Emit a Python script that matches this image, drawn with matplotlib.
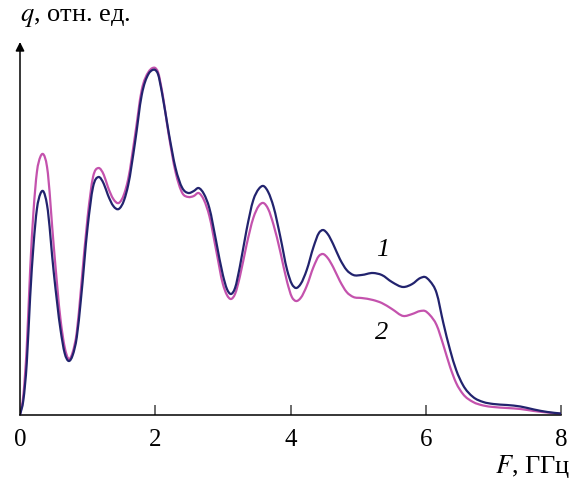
import numpy as np
import matplotlib.pyplot as plt
from matplotlib.path import Path
from matplotlib.patches import PathPatch

plt.rcParams['font.family'] = ['Liberation Serif', 'DejaVu Serif']
plt.rcParams['mathtext.fontset'] = 'stix'

# частота, ГГц
freq = [0, 0.05, 0.1, 0.15, 0.2, 0.25, 0.3, 0.34, 0.4, 0.5, 0.6, 0.66, 0.72, 0.78,
        0.84, 0.9, 1.0, 1.08, 1.16, 1.24, 1.3, 1.38, 1.46, 1.54, 1.6, 1.7, 1.8, 1.9,
        1.96, 2.0, 2.04, 2.1, 2.2, 2.3, 2.4, 2.49, 2.57, 2.64, 2.72, 2.8, 2.9, 3.0,
        3.06, 3.12, 3.18, 3.25, 3.35, 3.45, 3.53, 3.6, 3.67, 3.75, 3.85, 3.95, 4.02,
        4.08, 4.15, 4.24, 4.34, 4.42, 4.48, 4.55, 4.63, 4.73, 4.83, 4.93, 5.05, 5.22,
        5.35, 5.5, 5.67, 5.8, 5.92, 5.99, 6.06, 6.16, 6.26, 6.36, 6.45, 6.55, 6.7,
        6.85, 7.0, 7.2, 7.4, 7.6, 7.8, 8.0]

# кривая 1
q1 = [0, 15, 52, 118, 170, 206, 221, 224, 210, 142, 85, 62, 54, 60,
      78, 115, 188, 228, 238, 231, 220, 209, 206, 215, 230, 272, 320, 341,
      345, 345, 341, 322, 282, 247, 227, 222, 224, 227, 221, 207, 174, 140,
      126, 121, 127, 148, 185, 215, 226, 229, 223, 208, 178, 145, 131,
      127, 131, 145, 168, 182, 185, 181, 171, 156, 145, 140, 140, 142,
      140, 133, 128, 131, 137, 138, 134, 122, 92, 65, 45, 30, 18,
      13, 11, 10, 8.5, 5.5, 3, 1.5]

# кривая 2
q2 = [0, 20, 68, 145, 204, 243, 258, 261, 248, 168, 95, 68, 56, 63,
      83, 125, 198, 238, 247, 240, 228, 216, 212, 221, 236, 279, 325, 343,
      347, 347, 343, 324, 280, 243, 222, 218, 219, 222, 215, 199, 165, 131,
      120, 116, 121, 138, 170, 197, 209, 212, 206, 190, 163, 133, 118,
      114, 117, 129, 148, 159, 161, 157, 148, 134, 123, 118, 117, 115,
      112, 106, 99, 101, 104, 104, 100, 90, 70, 48, 32, 21, 13,
      9.5, 8, 7, 6, 4, 2.5, 1]

xticks = [0, 2, 4, 6, 8]


def smooth_path(x, y):
    """Кубический эрмитов сплайн через точки в виде пути из кривых Безье."""
    x = np.asarray(x, float)
    y = np.asarray(y, float)
    m = np.gradient(y, x)
    verts = [(x[0], y[0])]
    codes = [Path.MOVETO]
    for i in range(len(x) - 1):
        h = x[i + 1] - x[i]
        verts += [(x[i] + h / 3, y[i] + m[i] * h / 3),
                  (x[i + 1] - h / 3, y[i + 1] - m[i + 1] * h / 3),
                  (x[i + 1], y[i + 1])]
        codes += [Path.CURVE4] * 3
    return Path(verts, codes)


fig = plt.figure(figsize=(5.81, 4.84), dpi=100)
ax = fig.add_axes([20 / 581, 69 / 484, 541 / 581, 373 / 484])

ax.add_patch(PathPatch(smooth_path(freq, q2), fill=False, edgecolor='#c452ad',
                       lw=1.6, joinstyle='round', zorder=2))
ax.add_patch(PathPatch(smooth_path(freq, q1), fill=False, edgecolor='#22236e',
                       lw=1.6, joinstyle='round', zorder=3))

ax.set_xlim(0, 8)
ax.set_ylim(0, 373)
ax.set_xticks(xticks)
ax.set_yticks([])
ax.tick_params(axis='x', direction='in', length=7, width=1.1, color='#444444',
               labelsize=18, pad=10)
ax.xaxis.get_major_ticks()[0].tick1line.set_visible(False)

for side in ('top', 'right', 'left'):
    ax.spines[side].set_visible(False)
ax.spines['bottom'].set_linewidth(1.1)

# вертикальная ось со стрелкой
ax.annotate('', xy=(0, 1), xytext=(0, 0), xycoords='axes fraction',
            arrowprops=dict(arrowstyle='-|>', color='black', lw=1.1,
                            mutation_scale=13, shrinkA=0, shrinkB=0))

ax.text(5.36, 165, '1', fontsize=19, style='italic', ha='center', va='center')
ax.text(5.34, 82, '2', fontsize=19, style='italic', ha='center', va='center')

fig.text(20 / 581, 1 - 18 / 484, '$q$, отн. ед.', fontsize=19, ha='left', va='center')
fig.text(570 / 581, 1 - 466 / 484, '$F$, ГГц', fontsize=19, ha='right', va='center')

fig.savefig('out.png', dpi=100)
